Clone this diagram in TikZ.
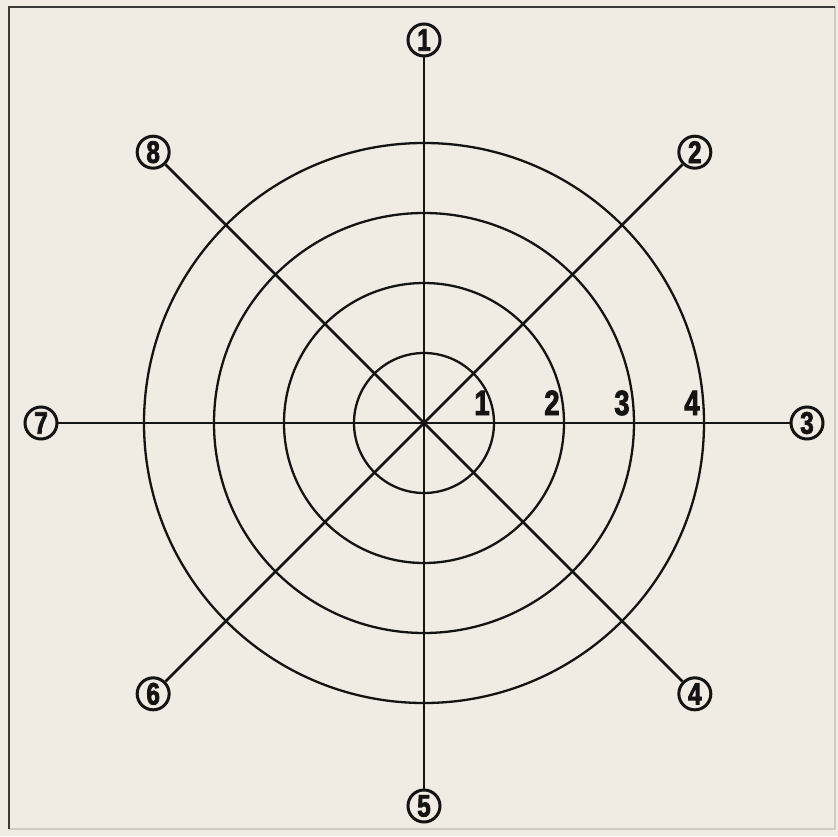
\documentclass[tikz,border=0pt]{standalone}
\usepackage{fontspec}
\setmainfont{Liberation Sans}
\newfontfamily\narrowbold[FakeStretch=0.78,FakeBold=2.5]{Liberation Sans Bold}
\usetikzlibrary{calc}
\definecolor{paper}{HTML}{F0EBE3}
\definecolor{ink}{HTML}{141414}
\definecolor{frameline}{HTML}{3C3A38}
\definecolor{faintline}{HTML}{CFCBC4}
\tikzset{
 every node/.append style={font=\narrowbold,text=ink},
 ring/.style={draw=ink,line width=2.3pt},
 spoke/.style={draw=ink,line width=2.5pt},
 marker/.style={circle,draw=ink,line width=3pt,fill=paper,minimum size=32pt,inner sep=0pt,font=\narrowbold\fontsize{31}{31}\selectfont},
 ringno/.style={inner sep=0pt,anchor=base,font=\narrowbold\fontsize{35}{35}\selectfont},
}

\begin{document}
\begin{tikzpicture}[x=1pt,y=1pt]

\useasboundingbox[fill=paper] (-424,-413) rectangle (414,423);
% page frame
\draw[faintline,line width=1.4pt] (-415,416) -- (411,416) -- (411,-406) -- (-415,-406);
\draw[frameline,line width=1.8pt] (-415,-406) -- (-415,416) -- (411,416);

\coordinate (c) at (0,0);

% rings
\foreach \k in {1,...,4} {
  \draw[ring] (c) circle ({\k*70});
  \node[ringno] (r\k) at ($(c)+(\k*70-12,8)$) {\k};
}

% markers round the outside
\foreach \i/\a in {1/90,2/45,3/0,4/-45,5/-90,6/-135,7/180,8/135} {
  \node[marker] (m\i) at (\a:383) {\i};
}

% spokes
\draw[spoke] (m1) -- (m5);
\draw[spoke] (m3) -- (m7);
\draw[spoke] (m2) -- (m6);
\draw[spoke] (m4) -- (m8);

\end{tikzpicture}
\end{document}
